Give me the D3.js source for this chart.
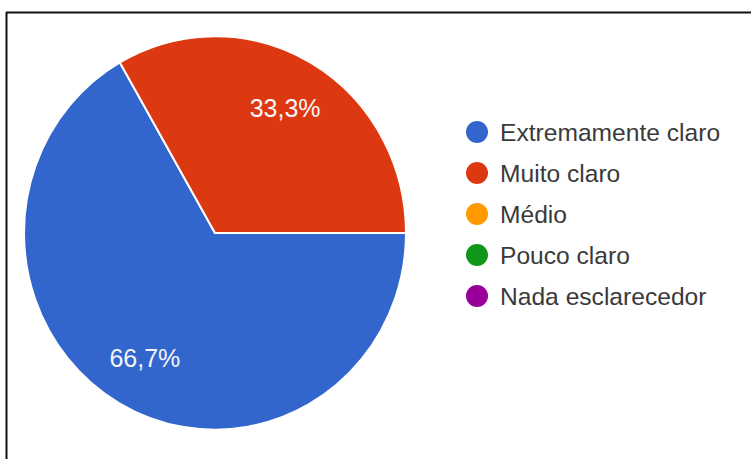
<!DOCTYPE html>
<html>
<head>
<meta charset="utf-8">
<script src="https://cdn.jsdelivr.net/npm/d3@7"></script>
<style>
  html, body { margin: 0; padding: 0; background: #fff; }
  svg { display: block; }
</style>
</head>
<body>
<div id="chart"></div>
<script>
// Answer categories, their shares (%) and slice colours
const categories = ["Extremamente claro", "Muito claro", "Médio", "Pouco claro", "Nada esclarecedor"];
const values = [66.7, 33.3, 0, 0, 0];
const colors = ["#3366cc", "#dc3912", "#ff9900", "#109618", "#990099"];
const valueLabels = ["66,7%", "33,3%", "", "", ""];

const W = 751, H = 459;
const svg = d3.select("#chart").append("svg").attr("width", W).attr("height", H);

// frame lines (top and left)
svg.append("line").attr("x1", 6).attr("y1", 12.5).attr("x2", W).attr("y2", 12.5)
  .attr("stroke", "#111").attr("stroke-width", 2);
svg.append("line").attr("x1", 6.5).attr("y1", 12).attr("x2", 6.5).attr("y2", H)
  .attr("stroke", "#111").attr("stroke-width", 2);

const cx = 215, cy = 233, r = 191, sy = 1.03;
const data = categories.map((c, i) => ({ name: c, value: values[i], color: colors[i], label: valueLabels[i] }));

const pie = d3.pie().value(d => d.value).sort(null)
  .startAngle(Math.PI / 2).endAngle(Math.PI / 2 + 2 * Math.PI);
const arcs = pie(data).filter(d => d.data.value > 0);

const arc = d3.arc().innerRadius(0).outerRadius(r);
const labelArc = d3.arc().innerRadius(140).outerRadius(140);

const g = svg.append("g").attr("transform", `translate(${cx},${cy}) scale(1,${sy})`);
g.selectAll("path").data(arcs).join("path")
  .attr("d", arc)
  .attr("fill", d => d.data.color)
  .attr("stroke", "#fff")
  .attr("stroke-width", 2)
  .attr("stroke-linejoin", "round");

svg.append("g").attr("transform", `translate(${cx},${cy})`)
  .selectAll("text").data(arcs).join("text")
  .attr("x", d => labelArc.centroid(d)[0])
  .attr("y", d => labelArc.centroid(d)[1] * sy)
  .attr("dy", "0.35em")
  .attr("text-anchor", "middle")
  .attr("font-family", "'Liberation Sans', Arial, sans-serif")
  .attr("font-size", 25)
  .attr("fill", "#f4f4f8")
  .text(d => d.data.label);

// legend
const legend = svg.append("g").attr("transform", "translate(477,132)");
const rows = legend.selectAll("g").data(data).join("g")
  .attr("transform", (d, i) => `translate(0,${i * 41})`);
rows.append("circle").attr("r", 11).attr("fill", d => d.color);
rows.append("text")
  .attr("x", 23).attr("dy", "0.36em")
  .attr("font-family", "'Liberation Sans', Arial, sans-serif")
  .attr("font-size", 24.6)
  .attr("fill", "#3a3a3a")
  .text(d => d.name);
</script>
</body>
</html>
